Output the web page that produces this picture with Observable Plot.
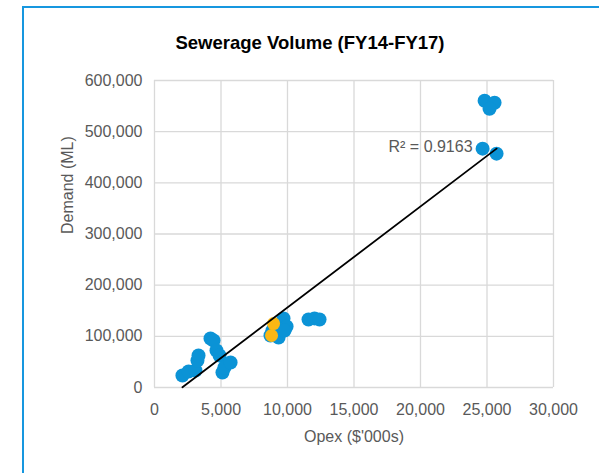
<!DOCTYPE html>
<html><head><meta charset="utf-8">
<script src="https://cdn.jsdelivr.net/npm/d3@7"></script>
<script src="https://cdn.jsdelivr.net/npm/@observablehq/plot@0.6"></script>
<style>
body{margin:0;background:#fff;}
#wrap{position:relative;width:599px;height:473px;overflow:hidden;font-family:"Liberation Sans",Arial,sans-serif;}
#frame{position:absolute;left:22px;top:6px;width:600px;height:500px;border-left:2px solid #1697df;border-top:2px solid #1697df;box-sizing:border-box;pointer-events:none;}
#title{position:absolute;left:110px;width:400px;top:32px;text-align:center;font-weight:bold;font-size:18.5px;color:#000;}
#wrap svg{position:absolute;left:0;top:0;}
</style></head><body>
<div id="wrap"><div id="title">Sewerage Volume (FY14-FY17)</div><div id="frame"></div></div>
<script>
// Series: utilities ("blue") and highlighted utility ("orange")
const blueOpex   = [2100, 2560, 3080, 3230, 3310, 4210, 4440, 4660, 4890, 5110, 5260, 5720,
                    9700, 9480, 9930, 8870, 8720, 9330, 9780,
                    11580, 12030, 12410,
                    24820, 25570, 25190, 24670, 25720];
const blueDemand = [23400, 31200, 33200, 52700, 62500, 95700, 91800, 72300, 62500, 29300, 39000, 48800,
                    134800, 125000, 119100, 111300, 101600, 97700, 111300,
                    133000, 135000, 133000,
                    560500, 556600, 544900, 466800, 457000];
const orangeOpex   = [8950, 8800];
const orangeDemand = [125000, 101600];

const xTicks = [0, 5000, 10000, 15000, 20000, 25000, 30000];
const yTicks = [0, 100000, 200000, 300000, 400000, 500000, 600000];

// Excel linear trendline
const trendSlope = 19.75;
const trendIntercept = -41140;
const rSquaredText = "R² = 0.9163";

const blue = blueOpex.map((x, i) => ({x, y: blueDemand[i]}));
const orange = orangeOpex.map((x, i) => ({x, y: orangeDemand[i]}));
const allX = blueOpex.concat(orangeOpex);
const xMin = d3.min(allX), xMax = d3.max(allX);
const trend = [xMin, xMax].map(x => ({x, y: trendSlope * x + trendIntercept}));

const fmt = d3.format(",");
const chart = Plot.plot({
  width: 599, height: 473,
  marginTop: 80, marginRight: 46, marginBottom: 86, marginLeft: 154,
  style: {background: "none", fontFamily: "'Liberation Sans', Arial, sans-serif", fontSize: "16px", color: "#595959"},
  x: {domain: [0, 30000]},
  y: {domain: [0, 600000]},
  marks: [
    Plot.gridX(xTicks, {stroke: "#d9d9d9", strokeOpacity: 1, strokeWidth: 1.3}),
    Plot.gridY(yTicks, {stroke: "#d9d9d9", strokeOpacity: 1, strokeWidth: 1.3}),
    Plot.axisX({ticks: xTicks, tickSize: 0, tickPadding: 16, tickFormat: fmt, label: null, fontSize: 16}),
    Plot.axisY({ticks: yTicks, tickSize: 0, tickPadding: 12, tickFormat: fmt, label: null, fontSize: 16}),
    Plot.dot(blue, {x: "x", y: "y", r: 7, fill: "#0b93d6", stroke: "none"}),
    Plot.dot(orange, {x: "x", y: "y", r: 6.5, fill: "#fbb714", stroke: "none"}),
    Plot.line(trend, {x: "x", y: "y", stroke: "#000", strokeWidth: 1.8}),
    Plot.text([trend[1]], {x: "x", y: "y", text: () => rSquaredText, textAnchor: "end", dx: -24, dy: -2, fontSize: 16, fill: "#595959"}),
    Plot.text(["Opex ($'000s)"], {frameAnchor: "bottom", text: d => d, dy: 54, fontSize: 16, fill: "#595959"}),
    Plot.text(["Demand (ML)"], {frameAnchor: "left", text: d => d, dx: -87, rotate: -90, fontSize: 16, fill: "#595959"})
  ]
});
document.getElementById("wrap").insertBefore(chart, document.getElementById("title"));
</script>
</body></html>
